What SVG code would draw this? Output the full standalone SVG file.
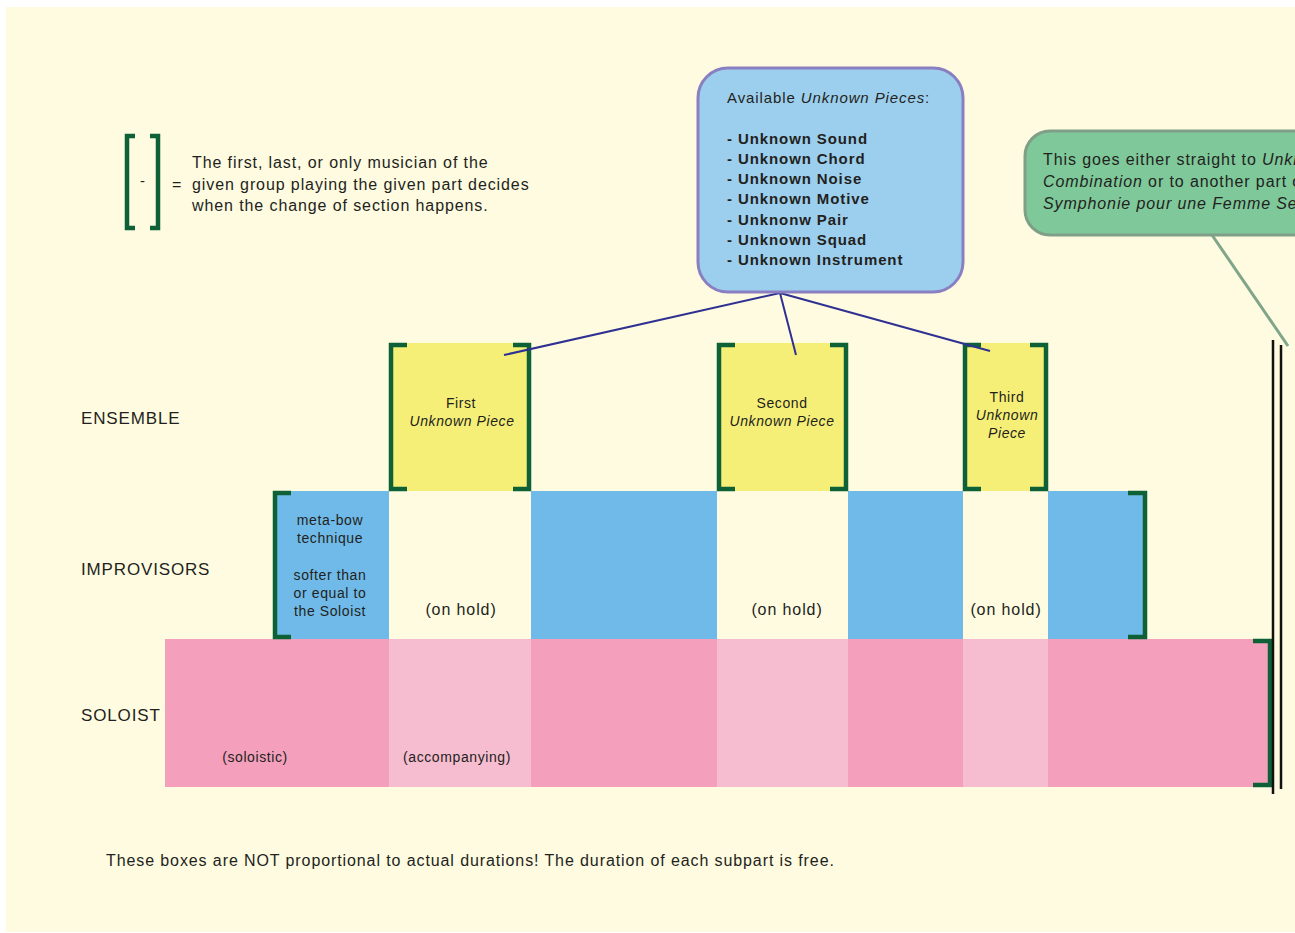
<svg xmlns="http://www.w3.org/2000/svg" width="1295" height="933" viewBox="0 0 1295 933">
<style>
text{font-family:"Liberation Sans",Arial,sans-serif;fill:#231f20}
.lbl{font-size:17px;letter-spacing:0.85px}
.t16{font-size:16px;letter-spacing:0.9px}
.t15{font-size:15px;letter-spacing:0.9px}
.t14{font-size:14px;letter-spacing:0.6px}
.c{text-anchor:middle}
.it{font-style:italic}
.b{font-weight:bold}
.br{fill:none;stroke:#0e6136;stroke-width:4.5;stroke-linecap:butt}
.ens{fill:#f6ef77}
.imp{fill:#6fbae8}
.sd{fill:#f4a0bc}
.sl{fill:#f6bcd0}
.conn{stroke:#2e3192;stroke-width:2;fill:none}
</style>
<rect x="0" y="0" width="1295" height="933" fill="#ffffff"/>
<rect x="6" y="7" width="1289" height="925" fill="#fefbe0"/>

<g id="legend">
<path class="br" d="M135,136 H127 V228 H135"/>
<path class="br" d="M150,136 H158 V228 H150"/>
<text class="t15 c" x="143" y="186">-</text>
<text class="t16" x="172" y="190">=</text>
<text class="t16" x="192" y="168">The first, last, or only musician of the</text>
<text class="t16" x="192" y="190">given group playing the given part decides</text>
<text class="t16" x="192" y="211">when the change of section happens.</text>
</g>

<g id="row-labels">
<text class="lbl" x="81" y="424">ENSEMBLE</text>
<text class="lbl" x="81" y="575">IMPROVISORS</text>
<text class="lbl" x="81" y="721">SOLOIST</text>
</g>

<g id="soloist">
<rect class="sd" x="165" y="639" width="224" height="148"/>
<rect class="sl" x="389" y="639" width="142" height="148"/>
<rect class="sd" x="531" y="639" width="186" height="148"/>
<rect class="sl" x="717" y="639" width="131" height="148"/>
<rect class="sd" x="848" y="639" width="115" height="148"/>
<rect class="sl" x="963" y="639" width="85" height="148"/>
<rect class="sd" x="1048" y="639" width="220" height="148"/>
<text class="t14 c" x="255" y="762">(soloistic)</text>
<text class="t14 c" x="457" y="762">(accompanying)</text>
<path class="br" d="M1253,641 H1270 V785 H1253"/>
</g>

<g id="improvisors">
<rect class="imp" x="273" y="491" width="116" height="148"/>
<rect class="imp" x="531" y="491" width="186" height="148"/>
<rect class="imp" x="848" y="491" width="115" height="148"/>
<rect class="imp" x="1048" y="491" width="97" height="148"/>
<path class="br" d="M291,493 H275 V637 H291"/>
<path class="br" d="M1128,493 H1145 V637 H1128"/>
<text class="t14 c" x="330" y="525">meta-bow</text>
<text class="t14 c" x="330" y="543">technique</text>
<text class="t14 c" x="330" y="580">softer than</text>
<text class="t14 c" x="330" y="598">or equal to</text>
<text class="t14 c" x="330" y="616">the Soloist</text>
<text class="t16 c" x="461" y="615">(on hold)</text>
<text class="t16 c" x="787" y="615">(on hold)</text>
<text class="t16 c" x="1006" y="615">(on hold)</text>
</g>

<g id="piece1">
<rect class="ens" x="389" y="343" width="142" height="148"/>
<path class="br" d="M407,345 H391 V489 H407"/>
<path class="br" d="M513,345 H529 V489 H513"/>
<text class="t14 c" x="461" y="408">First</text>
<text class="t14 c it" x="462" y="426">Unknown Piece</text>
</g>

<g id="piece2">
<rect class="ens" x="717" y="343" width="131" height="148"/>
<path class="br" d="M735,345 H719 V489 H735"/>
<path class="br" d="M830,345 H846 V489 H830"/>
<text class="t14 c" x="782" y="408">Second</text>
<text class="t14 c it" x="782" y="426">Unknown Piece</text>
</g>

<g id="piece3">
<rect class="ens" x="963" y="343" width="85" height="148"/>
<path class="br" d="M981,345 H965 V489 H981"/>
<path class="br" d="M1030,345 H1046 V489 H1030"/>
<text class="t14 c" x="1007" y="402">Third</text>
<text class="t14 c it" x="1007" y="420">Unknown</text>
<text class="t14 c it" x="1007" y="438">Piece</text>
</g>

<g id="barline">
<line x1="1273" y1="340" x2="1273" y2="794" stroke="#111" stroke-width="2.5"/>
<line x1="1281" y1="345" x2="1281" y2="789" stroke="#111" stroke-width="2.5"/>
</g>

<g id="connectors">
<line class="conn" x1="780" y1="293" x2="504" y2="355"/>
<line class="conn" x1="780" y1="293" x2="796" y2="355"/>
<line class="conn" x1="780" y1="293" x2="990" y2="351"/>
<line x1="1212" y1="235" x2="1288" y2="346" stroke="#7fa68a" stroke-width="3"/>
</g>

<g id="pieces-box">
<rect x="698" y="68" width="265" height="224" rx="30" ry="30" fill="#9ccfee" stroke="#8a7fc0" stroke-width="3"/>
<text class="t15" x="727" y="103">Available <tspan class="it">Unknown Pieces</tspan>:</text>
<text class="t15 b" x="727" y="144">- Unknown Sound</text>
<text class="t15 b" x="727" y="164">- Unknown Chord</text>
<text class="t15 b" x="727" y="184">- Unknown Noise</text>
<text class="t15 b" x="727" y="204">- Unknown Motive</text>
<text class="t15 b" x="727" y="225">- Unknonw Pair</text>
<text class="t15 b" x="727" y="245">- Unknown Squad</text>
<text class="t15 b" x="727" y="265">- Unknown Instrument</text>
</g>

<g id="note-box">
<rect x="1025" y="131" width="320" height="104" rx="25" ry="25" fill="#7ec89a" stroke="#7f9f87" stroke-width="3"/>
<text class="t16" x="1043" y="165">This goes either straight to <tspan class="it">Unknown</tspan></text>
<text class="t16" x="1043" y="187"><tspan class="it">Combination</tspan> or to another part of</text>
<text class="t16 it" x="1043" y="209">Symphonie pour une Femme Seule</text>
</g>

<g id="footer">
<text class="t16" x="106" y="866">These boxes are NOT proportional to actual durations! The duration of each subpart is free.</text>
</g>
</svg>
